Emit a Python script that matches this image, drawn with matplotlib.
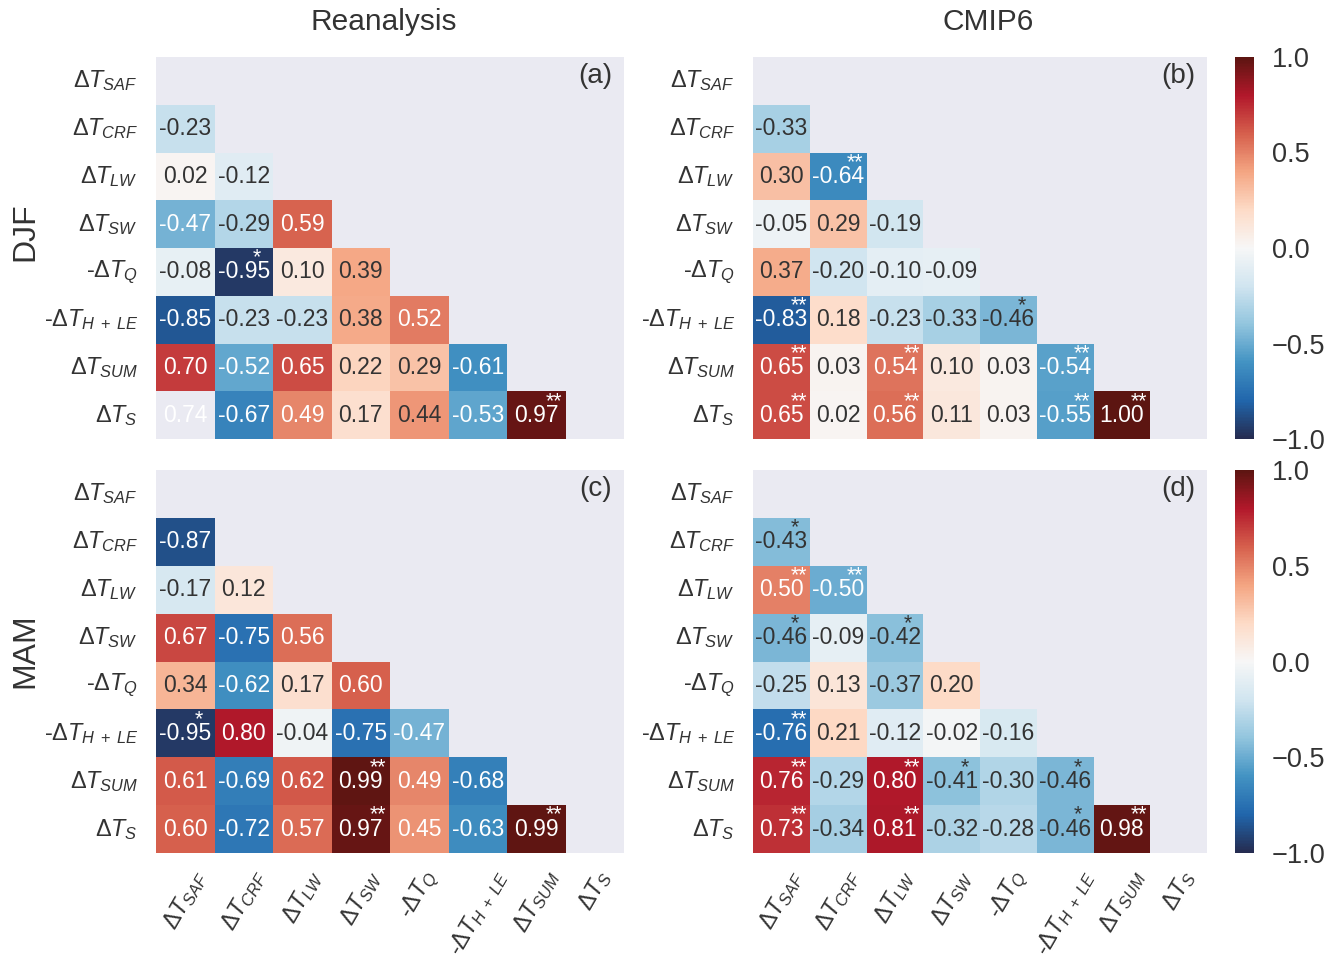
import numpy as np
import matplotlib
matplotlib.use("Agg")
import matplotlib.pyplot as plt
from matplotlib.colors import LinearSegmentedColormap, Normalize, to_rgba
import seaborn as sns

labels = [r"$\Delta T_{SAF}$", r"$\Delta T_{CRF}$", r"$\Delta T_{LW}$", r"$\Delta T_{SW}$",
          r"-$\Delta T_{Q}$", r"-$\Delta T_{H\;+\;LE}$", r"$\Delta T_{SUM}$", r"$\Delta T_{S}$"]

# lower triangle, row i holds correlations with columns 0..i-1
djf_rean = [[-0.23],
            [0.02, -0.12],
            [-0.47, -0.29, 0.59],
            [-0.08, -0.95, 0.10, 0.39],
            [-0.85, -0.23, -0.23, 0.38, 0.52],
            [0.70, -0.52, 0.65, 0.22, 0.29, -0.61],
            [0.74, -0.67, 0.49, 0.17, 0.44, -0.53, 0.97]]
djf_cmip = [[-0.33],
            [0.30, -0.64],
            [-0.05, 0.29, -0.19],
            [0.37, -0.20, -0.10, -0.09],
            [-0.83, 0.18, -0.23, -0.33, -0.46],
            [0.65, 0.03, 0.54, 0.10, 0.03, -0.54],
            [0.65, 0.02, 0.56, 0.11, 0.03, -0.55, 1.00]]
mam_rean = [[-0.87],
            [-0.17, 0.12],
            [0.67, -0.75, 0.56],
            [0.34, -0.62, 0.17, 0.60],
            [-0.95, 0.80, -0.04, -0.75, -0.47],
            [0.61, -0.69, 0.62, 0.99, 0.49, -0.68],
            [0.60, -0.72, 0.57, 0.97, 0.45, -0.63, 0.99]]
mam_cmip = [[-0.43],
            [0.50, -0.50],
            [-0.46, -0.09, -0.42],
            [-0.25, 0.13, -0.37, 0.20],
            [-0.76, 0.21, -0.12, -0.02, -0.16],
            [0.76, -0.29, 0.80, -0.41, -0.30, -0.46],
            [0.73, -0.34, 0.81, -0.32, -0.28, -0.46, 0.98]]

# significance marks (row, col, mark)
sig_djf_rean = [(4, 1, "*"), (7, 6, "**")]
sig_djf_cmip = [(2, 1, "**"), (5, 0, "**"), (5, 4, "*"), (6, 0, "**"), (6, 2, "**"),
                (6, 5, "**"), (7, 0, "**"), (7, 2, "**"), (7, 5, "**"), (7, 6, "**")]
sig_mam_rean = [(5, 0, "*"), (6, 3, "**"), (7, 3, "**"), (7, 6, "**")]
sig_mam_cmip = [(1, 0, "*"), (2, 0, "**"), (2, 1, "**"), (3, 0, "*"), (3, 2, "*"),
                (5, 0, "**"), (6, 0, "**"), (6, 2, "**"), (6, 3, "*"), (6, 5, "*"),
                (7, 0, "**"), (7, 2, "**"), (7, 5, "*"), (7, 6, "**")]
# cells annotated but left uncoloured
blank_djf_rean = [(7, 0)]

sns.set_style("darkgrid")
plt.rcParams['font.family'] = ['Liberation Sans', 'DejaVu Sans']
plt.rcParams['mathtext.fontset'] = 'custom'
plt.rcParams['mathtext.rm'] = 'Liberation Sans'
plt.rcParams['mathtext.it'] = 'Liberation Sans:italic'
plt.rcParams['mathtext.bf'] = 'Liberation Sans:bold'
TXT = '.2'

cmap = LinearSegmentedColormap.from_list(
    "rdbu_dark", ["#252b4f", "#2166ac", "#4393c3", "#92c5de", "#d1e5f0", "#f7f7f7",
                  "#fddbc7", "#f4a582", "#d6604d", "#b2182b", "#5c1511"], N=256)
norm = Normalize(-1, 1)


def luminance(c):
    rgb = np.array(to_rgba(c)[:3])
    rgb = np.where(rgb <= .03928, rgb / 12.92, ((rgb + .055) / 1.055) ** 2.4)
    return rgb.dot([.2126, .7152, .0722])


def draw_panel(ax, rows, sig, letter, cax=None, xlabels=False, blank=()):
    n = len(labels)
    vals = np.full((n, n), np.nan)
    for i, r in enumerate(rows, start=1):
        vals[i, :len(r)] = r
    colour_vals = vals.copy()
    for (i, j) in blank:
        colour_vals[i, j] = np.nan

    sns.heatmap(colour_vals, ax=ax, cmap=cmap, vmin=-1, vmax=1,
                cbar=cax is not None, cbar_ax=cax,
                cbar_kws={'ticks': [-1, -0.5, 0, 0.5, 1]},
                xticklabels=labels if xlabels else False, yticklabels=labels)
    ax.grid(False)

    marks = {(i, j): m for i, j, m in sig}
    for i in range(n):
        for j in range(n):
            if np.isnan(vals[i, j]):
                continue
            if np.isnan(colour_vals[i, j]):
                col = 'white'
            else:
                col = 'white' if luminance(cmap(norm(vals[i, j]))) < .408 else TXT
            ax.text(j + 0.5, i + 0.5, f"{vals[i, j]:.2f}", ha='center', va='center',
                    fontsize=16.5, color=col)
            if (i, j) in marks:
                ax.text(j + 0.66, i - 0.01, marks[(i, j)], ha='left', va='top',
                        fontsize=15.5, color=col)

    ax.set_yticklabels(labels, rotation=0, fontsize=16.8, color=TXT)
    if xlabels:
        ax.set_xticklabels(labels, rotation=60, ha='center', fontsize=16.8, color=TXT)
    ax.tick_params(axis='y', length=0, pad=13)
    ax.tick_params(axis='x', length=0, pad=9)
    ax.text(0.975, 0.95, f"({letter})", transform=ax.transAxes, ha='right', va='center',
            fontsize=20, color=TXT)
    if cax is not None:
        cax.tick_params(length=0, pad=13, labelsize=19.5, labelcolor=TXT)


W, H = 1337, 959
fig = plt.figure(figsize=(W / 100, H / 100), dpi=100)


def px_axes(x0, x1, y0, y1):
    return fig.add_axes([x0 / W, 1 - y1 / H, (x1 - x0) / W, (y1 - y0) / H])


ax_a = px_axes(156, 624, 57, 439)
ax_b = px_axes(753, 1207, 57, 439)
cax_b = px_axes(1235, 1254, 57, 439)
ax_c = px_axes(156, 624, 470, 853)
ax_d = px_axes(753, 1207, 470, 853)
cax_d = px_axes(1235, 1254, 470, 853)

draw_panel(ax_a, djf_rean, sig_djf_rean, "a", blank=blank_djf_rean)
draw_panel(ax_b, djf_cmip, sig_djf_cmip, "b", cax=cax_b)
draw_panel(ax_c, mam_rean, sig_mam_rean, "c", xlabels=True)
draw_panel(ax_d, mam_cmip, sig_mam_cmip, "d", cax=cax_d, xlabels=True)

fig.text(384 / W, 1 - 22 / H, "Reanalysis", ha='center', va='center', fontsize=21.5, color=TXT)
fig.text(988 / W, 1 - 22 / H, "CMIP6", ha='center', va='center', fontsize=21.5, color=TXT)
fig.text(25 / W, 1 - 232 / H, "DJF", ha='center', va='center', rotation=90, fontsize=23, color=TXT)
fig.text(25 / W, 1 - 651 / H, "MAM", ha='center', va='center', rotation=90, fontsize=23, color=TXT)

fig.savefig("out.png", dpi=100)
